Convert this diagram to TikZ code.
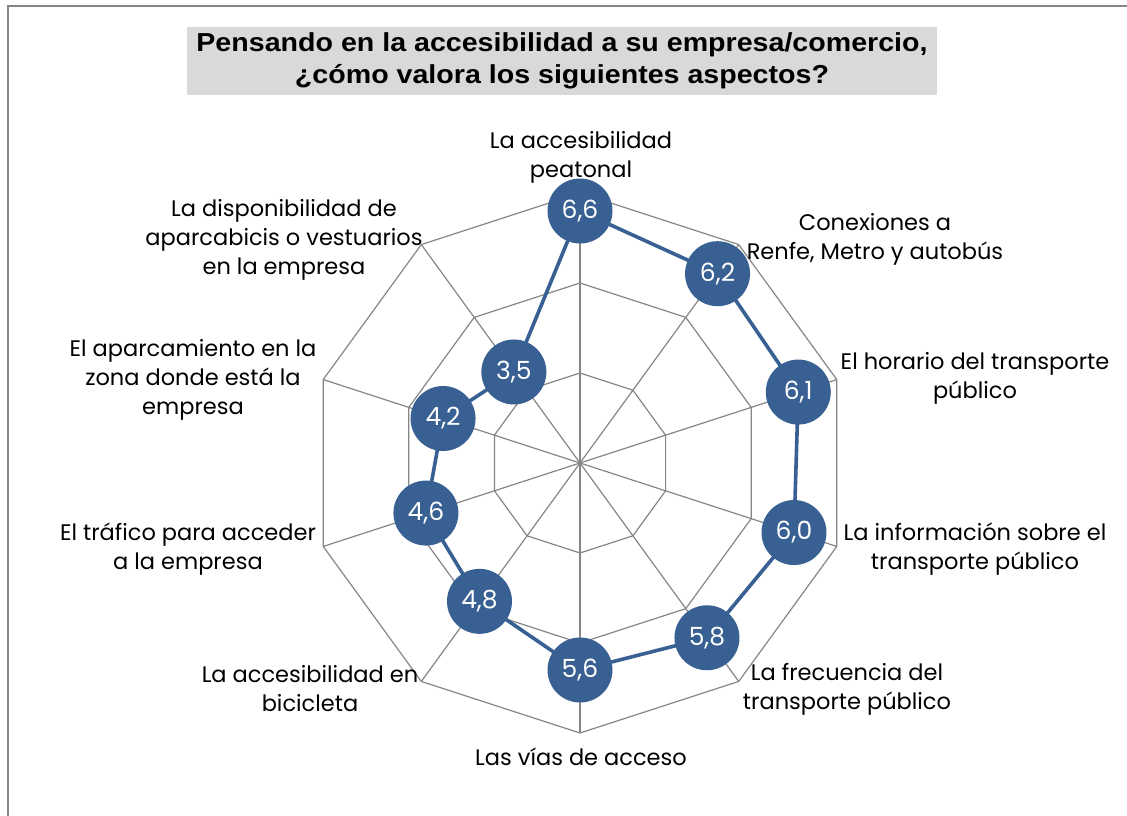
\documentclass[tikz,border=0pt]{standalone}
\usepackage{fontspec}
\setmainfont{Poppins}
\newfontfamily\titlefont{Liberation Sans}
\definecolor{serie}{RGB}{56,96,146}
\definecolor{gridc}{RGB}{134,134,134}
\definecolor{titlebg}{RGB}{217,217,217}
\tikzset{
  gridline/.style={draw=gridc, line width=1.2pt},
  serieline/.style={draw=serie, line width=3.6pt, line join=round},
  dot/.style={circle, fill=serie, minimum size=65pt, inner sep=0pt, text=white, font=\fontsize{25}{29}\selectfont},
  axlabel/.style={align=center, text=black, font=\fontsize{22.5}{29}\selectfont, inner sep=0pt},
  titletext/.style={inner sep=0pt}
}
\begin{document}
\begin{tikzpicture}[x=1pt,y=-1pt]
\useasboundingbox (0,0) rectangle (1127,816);
\fill[white] (0,0) rectangle (1127,816);
\draw[gridc, line width=1.2pt] (8,816) -- (8,6) -- (1127,6);
\fill[titlebg] (187,27) rectangle (937,95);
\node[titletext] (title) at (562,61) {\scalebox{1.1}[1]{\titlefont\bfseries\fontsize{26}{32}\selectfont\begin{tabular}{@{}c@{}}Pensando en la accesibilidad a su empresa/comercio,\\ ¿cómo valora los siguientes aspectos?\end{tabular}}};
\coordinate (O) at (580,463);
% rings
\foreach \r in {90,180,270}
  \draw[gridline] (580,{463-\r}) \foreach \k in {1,...,9} {-- ({580+\r*sin(36*\k)},{463-\r*cos(36*\k)})} -- cycle;
% spokes
\foreach \k in {0,...,9}
  \coordinate (v\k) at ({580+270*sin(36*\k)},{463-270*cos(36*\k)});
\foreach \k in {0,...,9}
  \draw[gridline] (O) -- (v\k);
% data
\foreach \k/\v in {0/6.6,1/6.2,2/6.1,3/6.0,4/5.8,5/5.6,6/4.8,7/4.6,8/4.2,9/3.5}
  \coordinate (c\k) at ({580+45*(\v-1)*sin(36*\k)},{463-45*(\v-1)*cos(36*\k)});
\draw[serieline] (c0) -- (c1) -- (c2) -- (c3) -- (c4) -- (c5) -- (c6) -- (c7) -- (c8) -- (c9) -- cycle;
\foreach \k/\t in {0/{6,6},1/{6,2},2/{6,1},3/{6,0},4/{5,8},5/{5,6},6/{4,8},7/{4,6},8/{4,2},9/{3,5}}
  \node[dot] (p\k) at (c\k) {\t};
% labels
\node[axlabel] (l0) at (581,157) {La accesibilidad\\peatonal};
\node[axlabel] (l1) at (875,239) {Conexiones a\\Renfe, Metro y autobús};
\node[axlabel] (l2) at (975,378) {El horario del transporte\\público};
\node[axlabel] (l3) at (975,549) {La información sobre el\\transporte público};
\node[axlabel] (l4) at (847,689) {La frecuencia del\\transporte público};
\node[axlabel] (l5) at (581,757) {Las vías de acceso};
\node[axlabel] (l6) at (310,689) {La accesibilidad en\\bicicleta};
\node[axlabel] (l7) at (188,549) {El tráfico para acceder\\a la empresa};
\node[axlabel] (l8) at (193,380) {El aparcamiento en la\\zona donde está la\\empresa};
\node[axlabel] (l9) at (284,240) {La disponibilidad de\\aparcabicis o vestuarios\\en la empresa};
\end{tikzpicture}
\end{document}
